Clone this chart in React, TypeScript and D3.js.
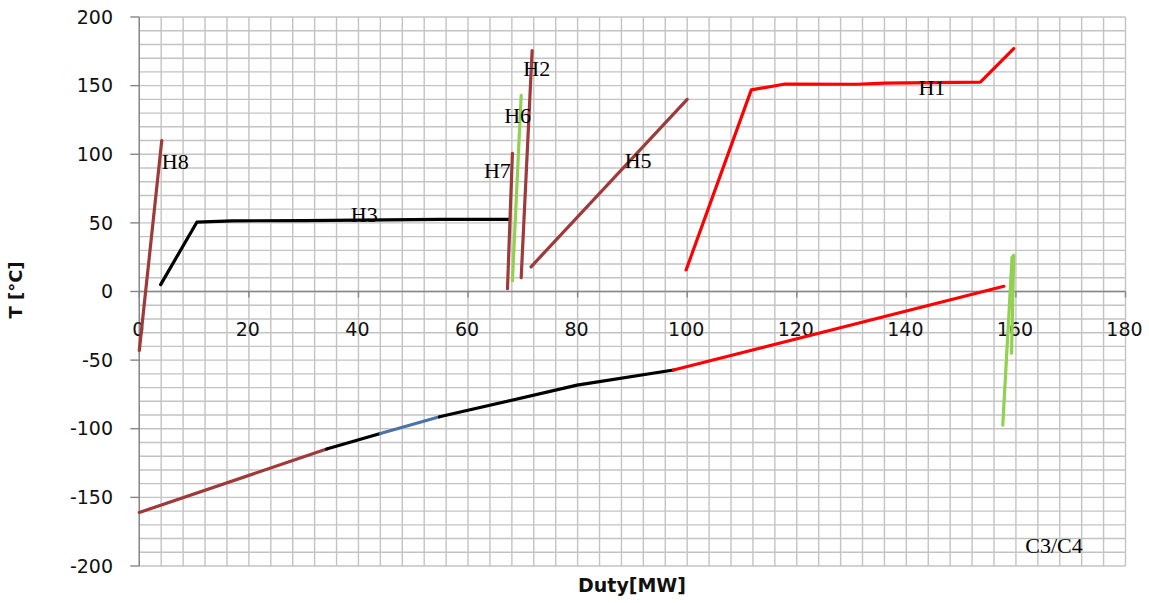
import React from "react";
import * as d3 from "d3";

// Hot stream curves (duty MW, temperature °C)
const H8 = [[0, -43], [4.1, 110]];
const H3 = [[3.9, 5], [10.5, 50.5], [17, 51.5], [30, 51.6], [55, 52.6], [67.6, 52.6]];
const H7 = [[67.2, 2], [68.1, 100.6]];
const H6 = [[68.1, 7.9], [69.7, 143]];
const H2 = [[69.7, 10], [71.7, 175.5]];
const H5 = [[71.5, 18], [100, 140]];
const H1 = [[99.8, 15.7], [111.7, 146.9], [117.9, 151.2], [131, 151], [136, 151.8], [153.5, 152.6], [159.6, 177]];

// Cold composite curve, split into coloured sections
const coldA = [[0, -161], [34.2, -114.8]];
const coldB = [[34.2, -114.8], [44, -103.5]];
const coldC = [[44, -103.5], [54.8, -91.3]];
const coldD = [[54.8, -91.3], [79.9, -68.2], [97.5, -57.2]];
const coldE = [[97.5, -57.2], [157.8, 3.8]];

// C3/C4 streams
const green1 = [[157.6, -97.3], [159.3, 25.3]];
const green2 = [[159.6, 26.5], [159.2, -45]];

const xTicks = [0, 20, 40, 60, 80, 100, 120, 140, 160, 180];
const yTicks = [-200, -150, -100, -50, 0, 50, 100, 150, 200];

// Stream labels anchored at (duty, temperature)
const labels = [
  { text: "H8", x: 4.1, y: 89.3 },
  { text: "H3", x: 38.6, y: 50.6 },
  { text: "H7", x: 62.9, y: 82.5 },
  { text: "H6", x: 66.6, y: 123 },
  { text: "H2", x: 70.1, y: 157 },
  { text: "H5", x: 88.6, y: 90 },
  { text: "H1", x: 142.2, y: 143.2 },
  { text: "C3/C4", x: 161.7, y: -190.7 },
];

const BROWN = "#9E3A3A";
const GREEN = "#92D050";
const RED = "#FF0000";
const BLUE = "#4A74A8";
const BLACK = "#000000";

const series = [
  { d: coldA, c: BROWN },
  { d: coldB, c: BLACK },
  { d: coldC, c: BLUE },
  { d: coldD, c: BLACK },
  { d: coldE, c: RED },
  { d: H8, c: BROWN },
  { d: H3, c: BLACK },
  { d: H7, c: BROWN },
  { d: H6, c: GREEN },
  { d: H2, c: BROWN },
  { d: H5, c: BROWN },
  { d: H1, c: RED },
  { d: green1, c: GREEN },
  { d: green2, c: GREEN },
];

export default function App() {
  const W = 1149;
  const H = 603;
  const left = 139.3;
  const right = 1125.5;
  const top = 17;
  const bottom = 566;

  const x = d3.scaleLinear().domain([0, 180]).range([left, right]);
  const y = d3.scaleLinear().domain([-200, 200]).range([bottom, top]);
  const line = d3
    .line<number[]>()
    .x((p) => x(p[0]))
    .y((p) => y(p[1]));

  const vGrid = d3.range(0, 181, 4);
  const hGrid = d3.range(-200, 201, 10);
  const axisColor = "#868686";
  const gridColor = "#c3c3c3";

  return (
    <svg
      width={W}
      height={H}
      style={{ position: "absolute", left: 0, top: 0, background: "#fff" }}
    >
      <g>
        {vGrid.map((v) => (
          <line key={"v" + v} x1={x(v)} x2={x(v)} y1={top} y2={bottom} stroke={gridColor} strokeWidth={1.4} />
        ))}
        {hGrid.map((v) => (
          <line key={"h" + v} x1={left} x2={right} y1={y(v)} y2={y(v)} stroke={gridColor} strokeWidth={1.4} />
        ))}
      </g>
      {/* axes */}
      <line x1={left} x2={left} y1={top} y2={bottom} stroke={axisColor} strokeWidth={1.4} />
      <line x1={left} x2={right} y1={y(0)} y2={y(0)} stroke={axisColor} strokeWidth={1.4} />
      {yTicks.map((t) => (
        <g key={"yt" + t}>
          <line x1={left - 9} x2={left} y1={y(t)} y2={y(t)} stroke={axisColor} strokeWidth={1.4} />
          <text
            x={113}
            y={y(t)}
            dy="0.35em"
            textAnchor="end"
            fontFamily="DejaVu Sans, sans-serif"
            fontSize={19}
            fill="#111"
          >
            {t}
          </text>
        </g>
      ))}
      {xTicks.map((t) => (
        <g key={"xt" + t}>
          <line x1={x(t)} x2={x(t)} y1={y(0)} y2={y(0) + 6} stroke={axisColor} strokeWidth={1.4} />
          <text
            x={x(t) - 1}
            y={y(0) + 38}
            dy="0.35em"
            textAnchor="middle"
            fontFamily="DejaVu Sans, sans-serif"
            fontSize={19}
            fill="#111"
          >
            {t}
          </text>
        </g>
      ))}
      {/* curves */}
      {series.map((s, i) => (
        <path
          key={"s" + i}
          d={line(s.d as number[][]) || ""}
          fill="none"
          stroke={s.c}
          strokeWidth={3.2}
          strokeLinejoin="round"
          strokeLinecap="round"
        />
      ))}
      {labels.map((l) => (
        <text
          key={l.text}
          x={x(l.x)}
          y={y(l.y)}
          fontFamily="Liberation Serif, Times New Roman, serif"
          fontSize={22}
          fill="#000"
        >
          {l.text}
        </text>
      ))}
      {/* axis titles */}
      <text
        x={632}
        y={592}
        textAnchor="middle"
        fontFamily="DejaVu Sans, sans-serif"
        fontWeight="bold"
        fontSize={19}
        fill="#111"
      >
        Duty[MW]
      </text>
      <text
        transform={`translate(22,290) rotate(-90)`}
        textAnchor="middle"
        fontFamily="DejaVu Sans, sans-serif"
        fontWeight="bold"
        fontSize={18}
        fill="#111"
      >
        T [°C]
      </text>
    </svg>
  );
}
